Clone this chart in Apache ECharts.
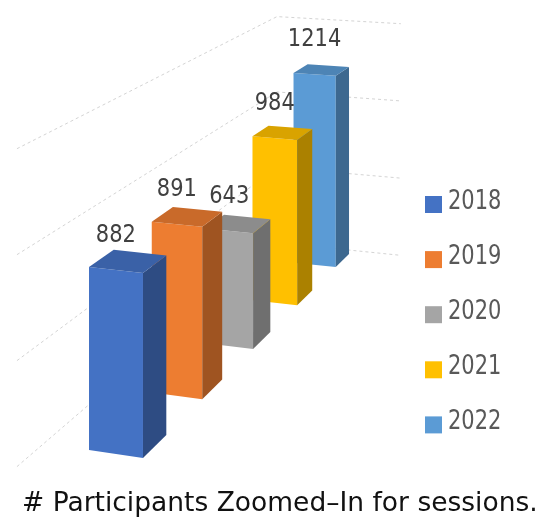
<!DOCTYPE html>
<html>
<head>
<meta charset="utf-8">
<script src="https://cdn.jsdelivr.net/npm/echarts@6/dist/echarts.min.js"></script>
<style>
  html, body { margin: 0; padding: 0; background: #fff; }
  #chart { width: 545px; height: 521px; }
</style>
</head>
<body>
<div id="chart"></div>
<script>
const years = ['2018', '2019', '2020', '2021', '2022'];
const participants = [882, 891, 643, 984, 1214];
const colors = ['#4472C4', '#ED7D31', '#A5A5A5', '#FFC000', '#5B9BD5'];
const gridValues = [0, 500, 1000, 1500];

// 3-D view fitted to the picture: x across a bar (0..1), z = depth slot, h = px above the floor
const view = { ox: 89, ax: 52.4, az: 75.2, bx: 3, bz: -25.3, ex: -0.011, ez: 0.082 };
const barDepth = 0.375;
const wall = { left: -0.85, right: 2.15, front: -0.37, back: 4.48 };

function project(x, z, h, y0) {
  const w = 1 + view.ex * x + view.ez * z;
  return [(view.ox + view.ax * x + view.az * z) / w, (y0 + view.bx * x + view.bz * z - h) / w];
}

function shade(hex, f) {
  const n = parseInt(hex.slice(1), 16);
  const r = Math.round(((n >> 16) & 255) * f);
  const g = Math.round(((n >> 8) & 255) * f);
  const b = Math.round((n & 255) * f);
  return 'rgb(' + r + ',' + g + ',' + b + ')';
}

function renderBar(params, api) {
  const i = api.value(0);
  const v = api.value(1);
  const y0 = api.coord([i, 0])[1];
  const h = y0 - api.coord([i, v])[1];
  const z0 = i, z1 = i + barDepth;
  const p = (x, z, hh) => project(x, z, hh, y0);
  const c = colors[i];
  const lab = p(0.5, z0, h);
  return {
    type: 'group',
    children: [
      { type: 'polygon', shape: { points: [p(0, z0, 0), p(1, z0, 0), p(1, z0, h), p(0, z0, h)] }, style: { fill: c } },
      { type: 'polygon', shape: { points: [p(1, z0, 0), p(1, z1, 0), p(1, z1, h), p(1, z0, h)] }, style: { fill: shade(c, 0.67) } },
      { type: 'polygon', shape: { points: [p(0, z0, h), p(1, z0, h), p(1, z1, h), p(0, z1, h)] }, style: { fill: shade(c, 0.85) } },
      {
        type: 'text', x: lab[0], y: lab[1] - 22, scaleY: 1.18,
        style: { text: String(v), fill: '#404040', font: '21px "DejaVu Sans"', align: 'center', verticalAlign: 'bottom' }
      }
    ]
  };
}

function renderGrid(params, api) {
  const v = api.value(1);
  const y0 = api.coord([0, 0])[1];
  const h = y0 - api.coord([0, v])[1];
  return {
    type: 'polyline',
    shape: {
      points: [
        project(wall.left, wall.front, h, y0),
        project(wall.left, wall.back, h, y0),
        project(wall.right, wall.back, h, y0)
      ]
    },
    style: { stroke: '#d4d4d4', lineWidth: 1, lineDash: [3, 3], fill: null }
  };
}

const series = [{
  type: 'custom',
  name: 'grid',
  z: 1,
  silent: true,
  renderItem: renderGrid,
  encode: { x: 0, y: 1 },
  data: gridValues.map(v => [0, v])
}];
years.forEach((y, i) => {
  series.push({
    type: 'custom',
    name: y,
    z: 14 - i,
    renderItem: renderBar,
    encode: { x: 0, y: 1 },
    itemStyle: { color: colors[i] },
    data: [[i, participants[i]]]
  });
});

const legendItems = [];
years.forEach((y, i) => {
  legendItems.push({ type: 'rect', x: 425, y: 196 + i * 55.1, shape: { width: 17, height: 17 }, style: { fill: colors[i] } });
  legendItems.push({
    type: 'text', x: 448, y: 201.8 + i * 55.1, scaleY: 1.3,
    style: { text: y, fill: '#595959', font: '21px "DejaVu Sans"', verticalAlign: 'middle' }
  });
});

const chart = echarts.init(document.getElementById('chart'));
chart.setOption({
  animation: false,
  backgroundColor: '#fff',
  title: {
    text: '# Participants Zoomed\u2013In for sessions.',
    left: 17,
    top: 486,
    textStyle: { fontFamily: 'DejaVu Sans', fontSize: 26.5, fontWeight: 'normal', color: '#111' }
  },
  grid: { left: 0, right: 0, top: 138.75, height: 311.25 },
  xAxis: { type: 'category', data: years, show: false },
  yAxis: { type: 'value', min: 0, max: 1500, show: false },
  graphic: legendItems,
  series: series
});
</script>
</body>
</html>
